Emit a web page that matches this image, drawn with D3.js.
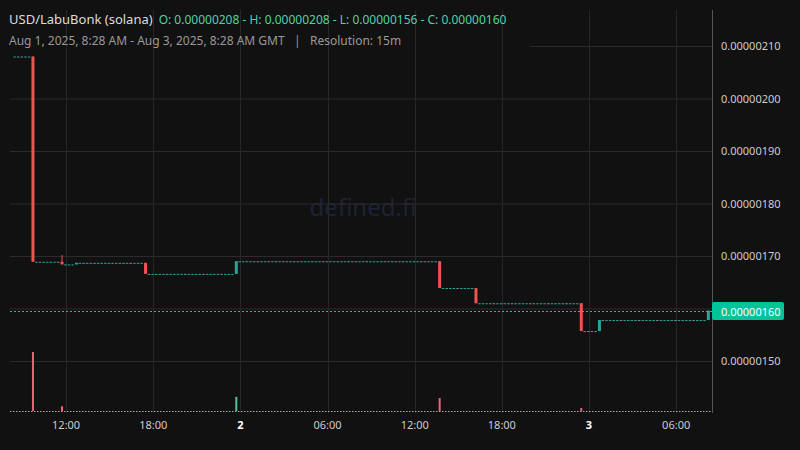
<!DOCTYPE html>
<html><head><meta charset="utf-8">
<script src="https://cdn.jsdelivr.net/npm/d3@7"></script>
<style>
body{margin:0;background:#111;}
text{font-family:"Noto Sans",sans-serif;}
</style></head>
<body><svg id="chart" width="800" height="450"></svg>
<script>
// 15m candles from Aug 1 2025 08:28 GMT, 192 bars
var startTime = Date.UTC(2025, 7, 1, 8, 28);
var barCount = 192;
var firstPrice = 208;
// bars where price moved: [index, open, high, low, close] (units of 1e-8)
var moves = [
    [5, 208, 208, 168.9, 168.9],
    [13, 168.9, 170.2, 168.4, 168.4],
    [17, 168.4, 168.7, 168.4, 168.7],
    [36, 168.7, 168.7, 166.6, 166.6],
    [61, 166.6, 169.0, 166.6, 169.0],
    [117, 169.0, 169.0, 163.9, 163.9],
    [127, 163.9, 163.9, 161.0, 161.0],
    [156, 161.0, 161.0, 155.7, 155.7],
    [161, 155.7, 157.8, 155.7, 157.8],
    [191, 157.8, 159.6, 157.8, 159.6]
];
// volume spikes: [index, volume, up?]
var volumes = [[5, 100, 0], [13, 8, 0], [61, 24, 1], [117, 22, 0], [156, 5, 0]];
var priceTicks = [150, 160, 170, 180, 190, 200, 210];
var timeTicks = [
    [Date.UTC(2025, 7, 1, 12), '12:00'], [Date.UTC(2025, 7, 1, 18), '18:00'],
    [Date.UTC(2025, 7, 2, 0), '2'], [Date.UTC(2025, 7, 2, 6), '06:00'],
    [Date.UTC(2025, 7, 2, 12), '12:00'], [Date.UTC(2025, 7, 2, 18), '18:00'],
    [Date.UTC(2025, 7, 3, 0), '3'], [Date.UTC(2025, 7, 3, 6), '06:00']
];
var lastPrice = 160;

var up = '#26a69a', down = '#ef5350';
var svg = d3.select('#chart');
var plotRight = 712;

var x = d3.scaleTime()
    .domain([startTime, startTime + 48 * 3600e3])
    .range([14.8, plotRight]);
var y = d3.scaleLinear().domain([150, 210]).range([361, 46]);
var vy = d3.scaleLinear().domain([0, 100]).range([411, 352]);

svg.append('rect').attr('width', 800).attr('height', 450).attr('fill', '#111');

// watermark
svg.append('text').attr('x', 363).attr('y', 216).attr('text-anchor', 'middle')
    .attr('font-size', 24).attr('fill', '#1e2236').text('defined.fi');

// grid
svg.selectAll('.hg').data(priceTicks).enter().append('line')
    .attr('x1', function (d) { return d === 210 ? 530 : 10; }).attr('x2', plotRight)
    .attr('y1', function (d) { return y(d) + 0.5; }).attr('y2', function (d) { return y(d) + 0.5; })
    .attr('stroke', '#2b2b2b');
svg.selectAll('.vg').data(timeTicks).enter().append('line')
    .attr('x1', function (d) { return Math.round(x(d[0])) + 0.5; })
    .attr('x2', function (d) { return Math.round(x(d[0])) + 0.5; })
    .attr('y1', 10).attr('y2', 413).attr('stroke', '#262626');

// build bars
var moveMap = {};
moves.forEach(function (m) { moveMap[m[0]] = m; });
var bars = [], prev = firstPrice;
d3.range(barCount).forEach(function (i) {
    var m = moveMap[i];
    if (m) { bars.push({i: i, o: m[1], h: m[2], l: m[3], c: m[4]}); prev = m[4]; }
    else bars.push({i: i, o: prev, h: prev, l: prev, c: prev});
});
function bx(i) { return x(startTime + i * 15 * 60e3); }

// volume baseline
svg.append('line').attr('x1', 10).attr('x2', plotRight).attr('y1', 411.5).attr('y2', 411.5)
    .attr('stroke', '#aaa').attr('stroke-dasharray', '1.5,1.5');
svg.selectAll('.vol').data(volumes).enter().append('rect')
    .attr('x', function (d) { return bx(d[0]) - 1; })
    .attr('y', function (d) { return vy(d[1]); })
    .attr('width', 2)
    .attr('height', function (d) { return 411 - vy(d[1]); })
    .attr('fill', function (d) { return d[2] ? '#4fc3a1' : '#f06277'; });

// candles
var g = svg.append('g');
bars.forEach(function (b) {
    var col = b.c >= b.o ? up : down;
    var cx = bx(b.i);
    if (b.h !== b.l) {
        g.append('line').attr('x1', cx).attr('x2', cx).attr('y1', y(b.h)).attr('y2', y(b.l))
            .attr('stroke', col).attr('stroke-width', 1);
    }
    var top = y(Math.max(b.o, b.c)), bot = y(Math.min(b.o, b.c));
    g.append('rect').attr('x', cx - 1.5)
        .attr('y', top).attr('height', Math.max(1, bot - top))
        .attr('fill', b.o === b.c ? (b.i % 5 === 2 ? '#888' : up) : col)
        .attr('width', b.o === b.c ? 2.5 : 3);
});

// last price line
svg.append('line').attr('x1', 10).attr('x2', plotRight).attr('y1', 311.5).attr('y2', 311.5)
    .attr('stroke', '#14c99a').attr('stroke-width', 1.2).attr('stroke-dasharray', '2,2');

// right axis
svg.append('line').attr('x1', plotRight + 0.5).attr('x2', plotRight + 0.5).attr('y1', 10).attr('y2', 413)
    .attr('stroke', '#555');
svg.selectAll('.pl').data(priceTicks.filter(function (d) { return Math.abs(d - lastPrice) > 3; }))
    .enter().append('text')
    .attr('x', 721).attr('y', function (d) { return y(d) + 4; })
    .attr('font-size', 11).attr('fill', '#ccc')
    .text(function (d) { return d3.format('.8f')(d * 1e-8); });
svg.append('rect').attr('x', plotRight).attr('y', 302).attr('width', 72).attr('height', 18)
    .attr('rx', 2).attr('fill', '#00c497');
svg.append('text').attr('x', 721).attr('y', 315.5).attr('font-size', 11).attr('fill', '#fff')
    .text(d3.format('.8f')(lastPrice * 1e-8));

// time axis
svg.selectAll('.tl').data(timeTicks).enter().append('text')
    .attr('x', function (d) { return x(d[0]); }).attr('y', 429)
    .attr('text-anchor', 'middle').attr('font-size', 11)
    .attr('fill', function (d) { return d[1].length === 1 ? '#fff' : '#ccc'; })
    .attr('font-weight', function (d) { return d[1].length === 1 ? 'bold' : 'normal'; })
    .text(function (d) { return d[1]; });

// header
var h = svg.append('text').attr('x', 9).attr('y', 24).attr('font-size', 13);
h.append('tspan').attr('fill', '#ddd').text('USD/LabuBonk (solana)');
h.append('tspan').attr('fill', '#4fd1a8').attr('font-size', 12).attr('dx', 6)
    .text('O: 0.00000208 - H: 0.00000208 - L: 0.00000156 - C: 0.00000160');
svg.append('text').attr('x', 9).attr('y', 45).attr('font-size', 12).attr('fill', '#999')
    .text('Aug 1, 2025, 8:28 AM - Aug 3, 2025, 8:28 AM GMT   |   Resolution: 15m')
    .attr('xml:space', 'preserve');
</script></body></html>
